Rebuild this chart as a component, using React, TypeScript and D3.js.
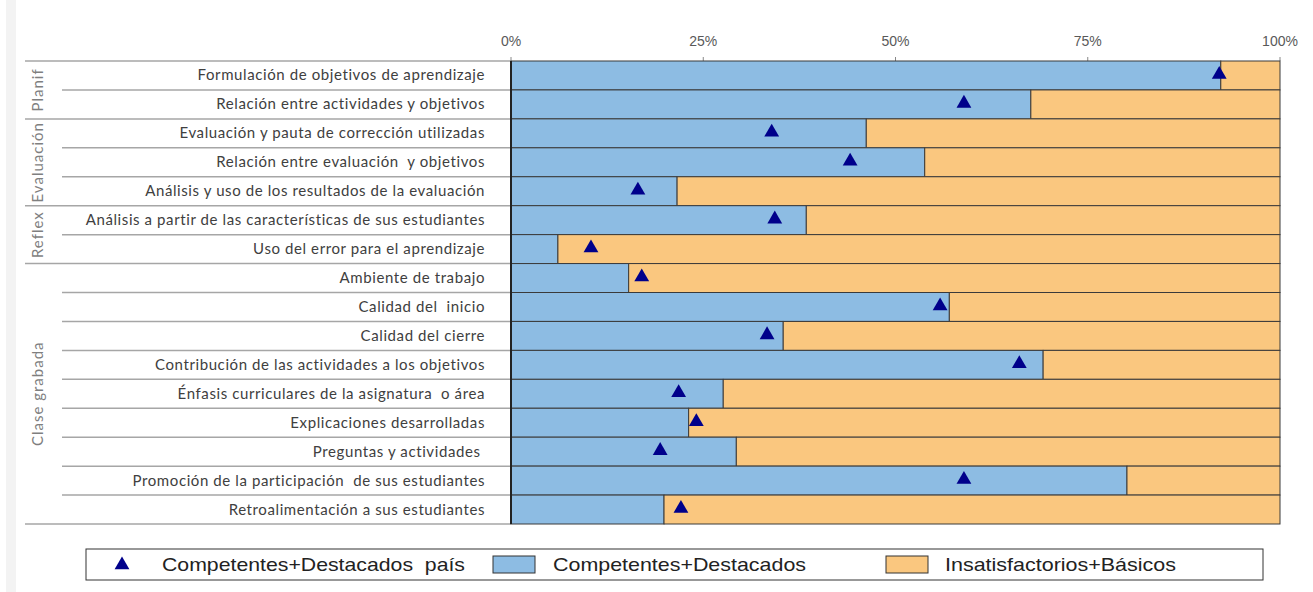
import React from "react";
import * as d3 from "d3";

const categories = [
  "Formulación de objetivos de aprendizaje",
  "Relación entre actividades y objetivos",
  "Evaluación y pauta de corrección utilizadas",
  "Relación entre evaluación  y objetivos",
  "Análisis y uso de los resultados de la evaluación",
  "Análisis a partir de las características de sus estudiantes",
  "Uso del error para el aprendizaje",
  "Ambiente de trabajo",
  "Calidad del  inicio",
  "Calidad del cierre",
  "Contribución de las actividades a los objetivos",
  "Énfasis curriculares de la asignatura  o área",
  "Explicaciones desarrolladas",
  "Preguntas y actividades ",
  "Promoción de la participación  de sus estudiantes",
  "Retroalimentación a sus estudiantes",
];

const competentes = [92.3, 67.6, 46.2, 53.8, 21.6, 38.4, 6.1, 15.3, 57.0, 35.4, 69.2, 27.6, 23.1, 29.3, 80.1, 19.9];
const pais = [92.1, 58.9, 33.9, 44.1, 16.5, 34.3, 10.4, 17.0, 55.8, 33.3, 66.1, 21.8, 24.1, 19.4, 58.9, 22.1];

const groups = [
  { name: "Planif", start: 0, end: 1 },
  { name: "Evaluación", start: 2, end: 4 },
  { name: "Reflex", start: 5, end: 6 },
  { name: "Clase grabada", start: 7, end: 15 },
];

const ticks = [0, 25, 50, 75, 100];
const legendLabels = ["Competentes+Destacados  país", "Competentes+Destacados", "Insatisfactorios+Básicos"];

const BLUE = "#8dbce3";
const ORANGE = "#fac77f";
const NAVY = "#00008b";
const BORDER = "#3a3a3a";

export default function App() {
  const x = d3.scaleLinear().domain([0, 100]).range([511, 1280]);
  const y = d3.scaleBand<number>().domain(d3.range(categories.length)).range([61, 524]).padding(0);
  const bw = y.bandwidth();
  const tri = d3.symbol().type(d3.symbolTriangle).size(95)();
  const labelFont = "Lato, 'Open Sans', sans-serif";
  const narrow = "'Liberation Sans Narrow', 'Arial Narrow', 'Liberation Sans', sans-serif";

  return (
    <svg width={1313} height={592} style={{ position: "absolute", left: 0, top: 0, background: "#fff" }}>
      <rect x={6} y={0} width={10} height={592} fill="#f3f3f3" />
      {ticks.map((t) => (
        <g key={t}>
          <text x={x(t)} y={46} textAnchor="middle" fontFamily={narrow} fontSize={14} fill="#595959">
            {t}%
          </text>
          <line x1={x(t)} x2={x(t)} y1={57} y2={61} stroke="#888" strokeWidth={1} />
        </g>
      ))}
      {d3.range(categories.length + 1).map((i) => {
        const isGroupEdge = i === 0 || i === categories.length || groups.some((g) => g.start === i);
        const yy = i === categories.length ? 524 : (y(i) as number);
        return (
          <line key={i} x1={isGroupEdge ? 25 : 62} x2={511} y1={yy} y2={yy} stroke="#a6a6a6" strokeWidth={1.5} />
        );
      })}
      {categories.map((c, i) => (
        <g key={c}>
          <rect x={x(0)} y={y(i)} width={x(competentes[i]) - x(0)} height={bw} fill={BLUE} stroke={BORDER} strokeWidth={1} />
          <rect x={x(competentes[i])} y={y(i)} width={x(100) - x(competentes[i])} height={bw} fill={ORANGE} stroke={BORDER} strokeWidth={1} />
          <text
            x={485}
            y={(y(i) as number) + bw / 2 + 5}
            textAnchor="end"
            fontFamily={labelFont}
            fontSize={15}
            letterSpacing={0.6}
            fill="#404040"
            style={{ whiteSpace: "pre" }}
          >
            {c}
          </text>
        </g>
      ))}
      <line x1={511} x2={511} y1={61} y2={524} stroke="#222" strokeWidth={2} />
      {categories.map((c, i) => (
        <path key={"t" + i} d={tri as string} transform={`translate(${x(pais[i])},${(y(i) as number) + bw / 2 - 1})`} fill={NAVY} />
      ))}
      {groups.map((g) => {
        const cy = ((y(g.start) as number) + (y(g.end) as number) + bw) / 2;
        return (
          <text
            key={g.name}
            transform={`translate(${43},${cy}) rotate(-90)`}
            textAnchor="middle"
            fontFamily={labelFont}
            fontSize={15}
            letterSpacing={1}
            fill="#7f7f7f"
          >
            {g.name}
          </text>
        );
      })}
      <rect x={86} y={549} width={1177} height={31} fill="#fff" stroke="#333" strokeWidth={1} />
      <path d={tri as string} transform="translate(122,565)" fill={NAVY} />
      <text x={162} y={571} fontFamily={narrow} fontSize={19} fill="#222" textLength={303} lengthAdjust="spacingAndGlyphs" style={{ whiteSpace: "pre" }}>
        {legendLabels[0]}
      </text>
      <rect x={493} y={556} width={42} height={17} fill={BLUE} stroke="#333" strokeWidth={1} />
      <text x={553} y={571} fontFamily={narrow} fontSize={19} fill="#222" textLength={253} lengthAdjust="spacingAndGlyphs">
        {legendLabels[1]}
      </text>
      <rect x={886} y={556} width={42} height={17} fill={ORANGE} stroke="#333" strokeWidth={1} />
      <text x={945} y={571} fontFamily={narrow} fontSize={19} fill="#222" textLength={231} lengthAdjust="spacingAndGlyphs">
        {legendLabels[2]}
      </text>
    </svg>
  );
}
